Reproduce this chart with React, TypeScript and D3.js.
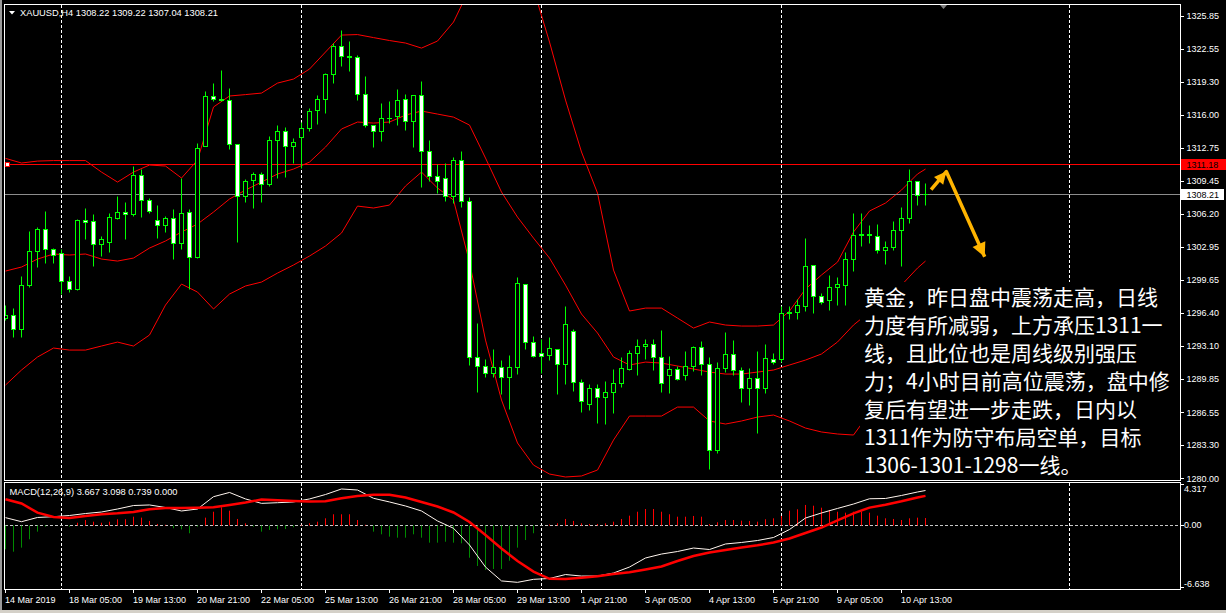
import React from 'react';
import * as d3 from 'd3';

// ---------- DATA ----------
const opens = [1295.85,1296.15,1294.76,1299.12,1302.49,1304.67,1302.69,1302.30,1299.52,1298.73,
1305.57,1305.47,1303.25,1303.45,1305.82,1306.36,1306.16,1310.03,1307.55,1305.57,
1305.07,1305.76,1303.29,1306.36,1301.90,1312.90,1317.86,1317.56,1317.46,1313.10,
1307.94,1309.53,1310.13,1309.19,1313.49,1314.39,1312.90,1313.79,1314.68,1316.47,
1317.56,1320.04,1322.81,1321.82,1321.72,1318.05,1314.98,1314.39,1315.68,1315.87,
1317.56,1315.38,1317.96,1312.40,1309.93,1309.73,1307.94,1311.51,1307.45,1291.99,
1291.10,1290.40,1291.00,1290.01,1291.00,1299.22,1293.48,1292.38,1292.19,1292.78,
1291.30,1294.57,1289.51,1287.33,1288.92,1288.02,1288.52,1289.41,1290.80,1292.38,
1293.08,1293.28,1291.99,1290.20,1290.80,1290.20,1291.10,1292.98,1291.30,1282.77,
1290.90,1292.29,1290.70,1288.92,1289.91,1288.92,1291.79,1291.79,1296.35,1296.45,
1297.04,1301.11,1298.03,1297.64,1298.93,1299.12,1301.70,1304.08,1304.18,1303.98,
1302.59,1302.89,1304.58,1305.76,1309.43,1308.22];
const highs = [1297.17,1296.84,1300.05,1304.51,1304.93,1306.49,1302.85,1302.72,1300.05,1305.67,
1306.79,1306.19,1303.98,1306.26,1307.97,1307.38,1310.95,1310.65,1307.81,1307.05,
1305.99,1306.66,1309.73,1306.66,1313.23,1318.38,1319.17,1320.43,1318.65,1313.10,
1309.63,1310.38,1310.38,1313.92,1314.98,1314.78,1313.69,1315.34,1316.67,1317.96,
1320.14,1323.11,1324.43,1323.31,1321.92,1319.84,1314.98,1317.16,1317.36,1318.55,
1318.05,1317.96,1319.34,1313.49,1311.15,1311.25,1311.87,1312.43,1307.85,1295.36,
1291.79,1292.78,1291.69,1292.19,1299.95,1299.22,1294.07,1293.77,1293.97,1292.78,
1297.04,1294.76,1289.81,1289.31,1289.31,1289.61,1290.80,1291.99,1292.68,1293.77,
1293.77,1293.77,1294.66,1292.09,1291.10,1292.58,1293.08,1293.57,1291.99,1291.49,
1294.47,1293.67,1291.00,1290.90,1292.58,1293.28,1292.38,1297.07,1297.07,1297.74,
1303.78,1301.11,1298.33,1300.12,1299.92,1302.39,1306.26,1306.26,1305.07,1305.17,
1303.48,1305.47,1306.85,1310.62,1309.43,1309.22];
const lows = [1295.69,1294.03,1294.03,1299.00,1300.91,1301.36,1301.36,1298.23,1298.49,1298.63,
1303.71,1301.07,1302.06,1302.39,1305.69,1303.74,1306.02,1305.92,1306.26,1303.84,
1304.44,1301.70,1302.75,1298.73,1301.80,1312.90,1317.42,1317.42,1312.60,1303.39,
1307.41,1306.82,1307.41,1308.99,1309.73,1309.89,1311.22,1310.72,1314.45,1315.08,
1316.17,1319.14,1320.83,1320.33,1317.46,1314.78,1312.80,1313.40,1315.18,1314.98,
1314.49,1312.86,1308.84,1309.43,1308.27,1307.51,1307.31,1306.91,1291.23,1288.58,
1290.07,1290.07,1288.32,1286.84,1290.30,1292.78,1291.99,1290.40,1291.69,1288.32,
1289.31,1288.62,1286.54,1286.74,1285.45,1285.35,1286.44,1289.02,1290.70,1290.20,
1291.79,1290.70,1288.52,1288.42,1289.71,1289.71,1290.60,1290.20,1280.95,1282.47,
1290.50,1290.20,1287.53,1287.23,1284.46,1288.42,1291.30,1291.52,1295.75,1295.75,
1296.55,1296.35,1297.24,1296.65,1297.14,1297.14,1300.51,1302.99,1303.29,1302.30,
1301.21,1302.59,1301.01,1305.27,1307.05,1307.04];
const closes = [1296.18,1294.76,1299.12,1302.49,1304.67,1302.69,1302.10,1299.52,1298.73,1305.57,
1305.37,1303.25,1303.68,1305.86,1306.36,1306.16,1310.03,1307.55,1306.46,1305.07,
1305.76,1303.29,1306.26,1301.90,1312.73,1317.86,1317.56,1317.50,1313.10,1307.94,
1309.43,1310.13,1309.19,1313.49,1314.39,1312.90,1313.30,1314.68,1316.37,1317.56,
1320.04,1322.81,1321.82,1321.72,1318.05,1314.98,1314.39,1315.68,1315.68,1317.46,
1315.38,1317.96,1312.40,1309.93,1309.43,1307.94,1311.51,1307.45,1291.99,1291.10,
1290.40,1291.00,1290.01,1291.00,1299.32,1293.48,1292.09,1292.09,1292.88,1291.30,
1295.26,1289.51,1287.63,1288.92,1288.02,1288.52,1289.41,1290.90,1292.38,1293.08,
1293.28,1291.99,1289.41,1290.80,1289.81,1291.10,1292.98,1291.30,1282.77,1290.90,
1292.29,1290.70,1288.92,1289.91,1288.92,1291.89,1291.49,1296.35,1296.45,1297.14,
1301.01,1298.03,1297.44,1298.93,1299.22,1301.70,1304.08,1304.18,1304.08,1302.59,
1302.89,1304.58,1305.76,1309.43,1308.04,1308.21];

// Bollinger bands, sampled every other bar (bar index list below)
const bandBars = [0,2,4,6,8,10,12,14,16,18,20,22,24,26,28,30,32,34,36,38,40,42,44,46,48,50,52,54,56,58,
60,62,64,66,68,70,72,74,76,78,80,82,84,86,88,90,92,94,96,98,100,102,104,106,108,110,112,114,115];
const bandUpper = [1311.71,1311.25,1311.44,1311.49,1311.49,1311.49,1310.35,1309.36,1310.35,1311.05,
1310.95,1309.76,1311.54,1316.80,1317.89,1318.03,1318.18,1319.17,1319.57,1320.56,
1322.25,1323.93,1323.98,1323.68,1323.39,1323.14,1322.64,1323.34,1325.22,1328.5,
1330.0,1330.5,1330.5,1328.5,1323.24,1317.49,1312.34,1308.27,1300.64,1296.58,
1296.87,1296.87,1295.88,1294.89,1295.49,1295.19,1295.09,1295.09,1295.19,1296.58,
1298.76,1300.15,1301.43,1304.41,1306.49,1307.28,1308.57,1310.16,1310.65];
const bandMiddle = [1300.54,1300.94,1301.73,1302.23,1302.13,1302.23,1301.73,1301.53,1301.83,1302.82,
1303.52,1304.41,1305.20,1306.39,1307.68,1308.57,1309.36,1310.16,1310.65,1311.34,
1312.83,1314.62,1315.31,1315.21,1315.31,1316.00,1316.40,1316.10,1315.80,1315.01,
1311.74,1308.37,1305.89,1303.81,1301.83,1299.15,1296.28,1294.40,1292.02,1291.23,
1291.52,1291.42,1291.13,1290.83,1290.53,1290.33,1290.33,1290.53,1290.73,1291.23,
1291.72,1292.32,1293.51,1295.19,1296.48,1297.96,1299.15,1300.84,1301.53];
const bandLower = [1289.24,1290.73,1292.02,1292.91,1292.71,1292.71,1293.11,1293.50,1293.11,1294.20,
1297.17,1299.25,1298.46,1296.78,1298.26,1299.06,1299.45,1300.34,1301.14,1302.03,
1303.02,1304.31,1306.98,1306.79,1307.08,1308.97,1310.35,1308.77,1307.58,1301.43,
1293.70,1287.76,1283.50,1281.31,1280.42,1280.13,1280.23,1280.82,1283.79,1286.17,
1286.17,1286.17,1287.06,1287.06,1285.68,1285.38,1285.68,1286.07,1286.27,1285.68,
1284.98,1284.59,1284.39,1284.29,1286.47,1288.64,1289.73,1291.52,1292.41];

// MACD lines (same sampled bars) and histogram (every bar)
const macdMain = [0.78,0.35,0.80,0.88,1.01,1.22,1.38,1.70,2.07,2.13,1.86,1.49,1.70,3.01,3.46,2.77,2.30,2.37,2.45,2.77,
3.24,3.83,3.72,2.84,2.45,2.02,1.49,0.43,-0.35,-2.13,-4.47,-5.95,-6.10,-5.78,-5.69,-5.27,-5.43,-5.43,-5.11,-4.47,
-3.51,-3.09,-2.82,-2.45,-2.61,-2.02,-1.86,-1.65,-1.33,-0.48,0.74,1.28,1.76,2.23,2.79,2.82,3.14,3.51,3.667];
const macdSignal = [2.73,2.29,1.31,0.85,0.74,0.96,1.14,1.24,1.38,1.68,1.81,1.81,1.83,1.88,2.13,2.39,2.71,2.63,2.55,2.50,
2.53,2.85,3.09,3.22,3.22,2.93,2.45,1.97,1.33,0.32,-1.06,-2.50,-3.83,-4.95,-5.72,-5.74,-5.61,-5.46,-5.21,-5.02,
-4.73,-4.41,-3.83,-3.30,-2.93,-2.66,-2.39,-2.16,-1.86,-1.44,-0.85,-0.27,0.48,1.24,1.85,2.16,2.52,2.93,3.098];
const macdHist = [-2.59,-2.84,-2.41,-1.52,-0.71,-0.18,-0.05,-0.05,-0.18,0.24,
0.53,0.35,0.24,0.35,0.61,0.61,0.88,0.78,0.43,0.11,
0.02,-0.35,-0.46,-0.88,-0.18,0.78,1.41,1.88,1.52,0.64,
0.18,-0.18,-0.71,-0.53,-0.46,-0.43,-0.24,0.02,0.18,0.35,
0.71,1.14,1.14,1.14,0.53,0.02,-0.71,-0.99,-1.24,-1.35,
-1.35,-0.99,-1.35,-1.88,-1.88,-1.78,-1.88,-1.95,-3.48,-4.36,
-4.79,-4.68,-4.68,-3.80,-2.41,-1.60,-0.88,-0.05,0.05,0.18,
0.64,0.43,0.18,0.11,0.11,0.18,0.35,0.64,0.99,1.41,
1.70,1.70,1.41,1.14,0.88,0.88,0.96,0.88,0.10,0.29,
0.53,0.53,0.46,0.43,0.35,0.61,0.71,0.96,1.52,1.67,
2.13,2.05,1.84,1.60,1.41,1.31,1.41,1.41,1.31,0.99,
0.71,0.64,0.53,0.71,0.78,0.739];

const priceTicks = [1325.85,1322.55,1319.30,1316.00,1312.75,1309.45,1306.20,1302.95,1299.65,1296.40,1293.10,1289.85,1286.55,1283.30,1280.00];
const macdTicks = [4.317, 0.0, -6.638];
const timeLabelBars = [0,8,16,24,32,40,48,56,64,72,80,88,96,104,112];
const timeLabelTexts = ['14 Mar 2019','18 Mar 05:00','19 Mar 13:00','20 Mar 21:00','22 Mar 05:00','25 Mar 13:00','26 Mar 21:00','28 Mar 05:00','29 Mar 13:00','1 Apr 21:00','3 Apr 05:00','4 Apr 13:00','5 Apr 21:00','9 Apr 05:00','10 Apr 13:00'];
const gridBars = [7,37,67,97,133];
const resistanceLevel = 1311.18;
const bidLevel = 1308.21;
const headerText = 'XAUUSD,H4  1308.22 1309.22 1307.04 1308.21';
const macdHeader = 'MACD(12,26,9) 3.667 3.098 0.739 0.000';
const noteLines = [
  '黄金，昨日盘中震荡走高，日线',
  '力度有所减弱，上方承压1311一',
  '线，且此位也是周线级别强压',
  '力；4小时目前高位震荡，盘中修',
  '复后有望进一步走跌，日内以',
  '1311作为防守布局空单，目标',
  '1306-1301-1298一线。',
];
// arrow annotation in (bar, price) coordinates
const arrowPts: [number, number][] = [[115.7, 1308.6], [117.6, 1310.4], [122.4, 1301.95]];

const FONT = "'Liberation Sans', Arial, sans-serif";
const GREEN = '#00ff00';

export default function App() {
  const W = 1226, H = 613;
  const xL = 4.5, xR = 1180.5, mainTop = 4.5, mainBot = 480.5, subTop = 482.5, subBot = 589.5;

  const x = d3.scaleLinear().domain([0, 115]).range([5.5, 925.5]);
  const y = d3.scaleLinear().domain([1280, 1325.85]).range([478.3, 15.7]);
  const m = d3.scaleLinear().domain([-6.638, 4.317]).range([587.4, 484.4]);
  const px = (v: number) => Math.round(v) + 0.5;
  const bx = (i: number) => Math.floor(x(i)) + 0.5;

  const bandLine = d3.line<number>().x((_, i) => x(bandBars[i])).y(d => y(d));
  const macdLine = d3.line<number>().x((_, i) => x(bandBars[i])).y(d => m(d));

  const candles = opens.map((o, i) => {
    const c = closes[i];
    const xc = bx(i);
    const yo = px(y(o)), yc = px(y(c)), yh = px(y(highs[i])), yl = px(y(lows[i]));
    const top = Math.min(yo, yc), bot = Math.max(yo, yc);
    return (
      <g key={i}>
        <line x1={xc} x2={xc} y1={yh} y2={yl} stroke={GREEN} strokeWidth={1} />
        {bot - top < 1 ? (
          <line x1={xc - 2.5} x2={xc + 2.5} y1={top} y2={top} stroke={GREEN} strokeWidth={1} />
        ) : (
          <rect x={xc - 2} y={top} width={4} height={bot - top} fill={c < o ? '#ffffff' : '#000000'} stroke={GREEN} strokeWidth={1} />
        )}
      </g>
    );
  });

  const zeroY = px(m(0));
  const hist = macdHist.map((v, i) => (
    <line key={i} x1={bx(i)} x2={bx(i)} y1={zeroY} y2={m(v)} stroke={v >= 0 ? '#ff0000' : '#008a00'} strokeWidth={1} />
  ));

  const arrowP = arrowPts.map(([b, p]) => [x(b), y(p)] as [number, number]);
  const head = (from: [number, number], to: [number, number], len: number, wid: number) => {
    const dx = to[0] - from[0], dy = to[1] - from[1];
    const d = Math.hypot(dx, dy);
    const ux = dx / d, uy = dy / d;
    const bx0 = to[0] - ux * len, by0 = to[1] - uy * len;
    return `M${to[0]},${to[1]}L${bx0 - uy * wid},${by0 + ux * wid}L${bx0 + uy * wid},${by0 - ux * wid}Z`;
  };

  const resY = px(y(resistanceLevel));
  const bidY = px(y(bidLevel));

  return (
    <svg width={W} height={H} style={{ position: 'absolute', left: 0, top: 0, display: 'block' }} fontFamily={FONT}>
      <defs>
        <clipPath id="mainClip"><rect x={5} y={5} width={1175} height={475} /></clipPath>
        <clipPath id="subClip"><rect x={5} y={483} width={1175} height={106} /></clipPath>
      </defs>
      <rect x={0} y={0} width={W} height={H} fill="#000" />
      <rect x={0} y={0} width={2} height={H} fill="#9a9a9a" />
      <rect x={0} y={610} width={W} height={3} fill="#d4d0c8" />

      {/* grid */}
      {gridBars.map(b => (
        <g key={b}>
          <line x1={bx(b)} x2={bx(b)} y1={5} y2={480} stroke="#ffffff" strokeDasharray="3,2" />
          <line x1={bx(b)} x2={bx(b)} y1={483} y2={589} stroke="#ffffff" strokeDasharray="3,2" />
        </g>
      ))}

      {/* main chart */}
      <g clipPath="url(#mainClip)">
        <path d={bandLine(bandUpper) || ''} fill="none" stroke="#ff0000" strokeWidth={1} />
        <path d={bandLine(bandMiddle) || ''} fill="none" stroke="#ff0000" strokeWidth={1} />
        <path d={bandLine(bandLower) || ''} fill="none" stroke="#ff0000" strokeWidth={1} />
        <line x1={5} x2={1180} y1={bidY} y2={bidY} stroke="#8c8c8c" strokeWidth={1} />
        <line x1={5} x2={1180} y1={resY} y2={resY} stroke="#ff0000" strokeWidth={1} />
        <rect x={5.5} y={resY - 2} width={4} height={4} fill="#ffffff" stroke="#ff0000" />
        {candles}
      </g>

      {/* note box */}
      <rect x={860} y={282} width={318} height={197} fill="#000" />
      <g fontFamily="'Noto Sans CJK SC', 'Noto Sans', sans-serif" fontSize={21} fill="#ffffff">
        {noteLines.map((t, i) => (
          <text key={i} x={864} y={304.5 + i * 28}>{t}</text>
        ))}
      </g>

      {/* arrow */}
      <g clipPath="url(#mainClip)">
        <polyline points={arrowP.map(p => p.join(',')).join(' ')} fill="none" stroke="#ffb400" strokeWidth={3.5} strokeLinejoin="round" />
        <path d={head(arrowP[0], arrowP[1], 12, 6)} fill="#ffb400" />
        <path d={head(arrowP[1], arrowP[2], 14, 7)} fill="#ffb400" />
      </g>

      {/* macd */}
      <g clipPath="url(#subClip)">
        <line x1={5} x2={1180} y1={zeroY} y2={zeroY} stroke="#c8c8c8" strokeDasharray="3,2" />
        {hist}
        <path d={macdLine(macdMain) || ''} fill="none" stroke="#fff5ee" strokeWidth={1} />
        <path d={macdLine(macdSignal) || ''} fill="none" stroke="#ff0000" strokeWidth={2.5} />
      </g>

      {/* frames */}
      <rect x={xL} y={mainTop} width={xR - xL} height={mainBot - mainTop} fill="none" stroke="#ffffff" />
      <rect x={xL} y={subTop} width={xR - xL} height={subBot - subTop} fill="none" stroke="#ffffff" />

      {/* top marker */}
      <path d="M940,5 L947,5 L943.5,9 Z" fill="#808080" />

      {/* headers */}
      <path d="M9,11 L15,11 L12,14.5 Z" fill="#ffffff" />
      <text x={20} y={15.5} fontSize={9.3} fill="#ffffff">{headerText}</text>
      <text x={9.5} y={495} fontSize={9.3} fill="#ffffff">{macdHeader}</text>

      {/* price axis */}
      {priceTicks.map(t => (
        <g key={'p' + t}>
          <line x1={1180} x2={1184} y1={px(y(t))} y2={px(y(t))} stroke="#ffffff" />
          <text x={1186.5} y={y(t) + 3.3} fontSize={9} fill="#ffffff">{t.toFixed(2)}</text>
        </g>
      ))}
      <rect x={1181} y={resY - 5.5} width={45} height={11} fill="#ff0000" />
      <text x={1186.5} y={resY + 3.3} fontSize={9} fill="#000000">{resistanceLevel.toFixed(2)}</text>
      <rect x={1181} y={bidY - 5.5} width={43} height={11} fill="#ffffff" />
      <text x={1186.5} y={bidY + 3.3} fontSize={9} fill="#000000">{bidLevel.toFixed(2)}</text>

      {/* macd axis */}
      {macdTicks.map((t, i) => {
        const ty = m(t);
        const labelY = i === 0 ? ty + 4.7 : i === 2 ? ty - 4.1 : ty;
        return (
          <g key={'m' + i}>
            <line x1={1180} x2={1184} y1={px(ty)} y2={px(ty)} stroke="#ffffff" />
            <text x={1184} y={labelY + 3.3} fontSize={9} fill="#ffffff">{t === 0 ? '0.00' : t.toFixed(3)}</text>
          </g>
        );
      })}

      {/* time axis */}
      {timeLabelBars.map((b, i) => (
        <g key={'t' + b}>
          <line x1={bx(b)} x2={bx(b)} y1={589} y2={593} stroke="#ffffff" />
          <text x={bx(b) - 0.5} y={602.5} fontSize={9} fill="#ffffff">{timeLabelTexts[i]}</text>
        </g>
      ))}
    </svg>
  );
}
